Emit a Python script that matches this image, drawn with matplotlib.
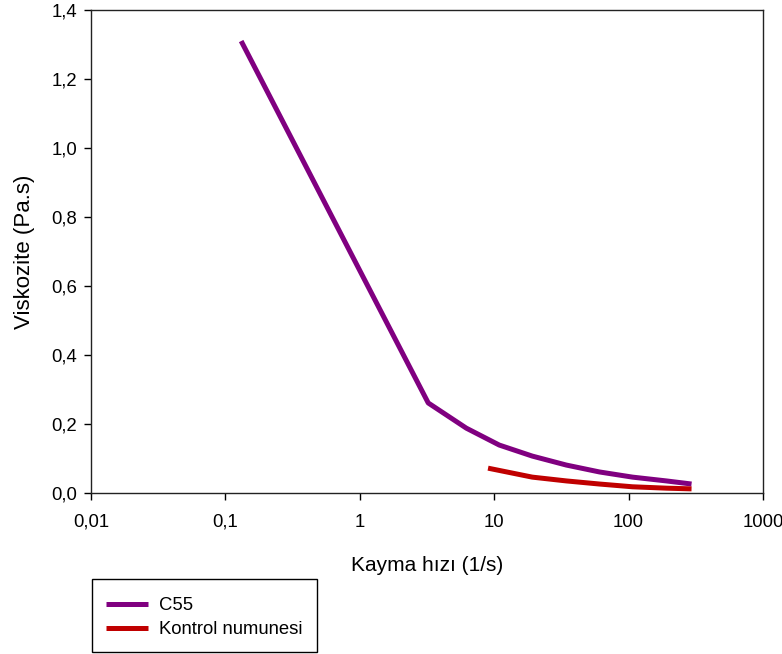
import matplotlib
matplotlib.use("Agg")
import matplotlib.pyplot as plt
from matplotlib.patches import Rectangle
from matplotlib.ticker import FixedLocator, FixedFormatter, NullLocator

plt.rcParams['font.family'] = ['Liberation Sans', 'DejaVu Sans']

# Data
c55_x = [0.131, 3.23, 6.2, 10.9, 19.2, 34.4, 60.7, 107, 191, 294]
c55_y = [1.31, 0.261, 0.188, 0.139, 0.107, 0.081, 0.061, 0.046, 0.035, 0.026]
kontrol_x = [9.0, 19.2, 34.4, 60.7, 107, 191, 294]
kontrol_y = [0.072, 0.046, 0.035, 0.026, 0.018, 0.014, 0.012]

x_ticks = [0.01, 0.1, 1, 10, 100, 1000]
x_tick_labels = ['0,01', '0,1', '1', '10', '100', '1000']
y_ticks = [0.0, 0.2, 0.4, 0.6, 0.8, 1.0, 1.2, 1.4]
y_tick_labels = ['0,0', '0,2', '0,4', '0,6', '0,8', '1,0', '1,2', '1,4']

W, H = 782, 654
fig = plt.figure(figsize=(W/100, H/100), dpi=100)
ax = fig.add_axes([91/W, 1 - 493/H, (763-91)/W, (493-10)/H])

ax.plot(c55_x, c55_y, color='#800080', lw=3.6, label='C55', solid_capstyle='butt')
ax.plot(kontrol_x, kontrol_y, color='#C00000', lw=3.6, label='Kontrol numunesi', solid_capstyle='butt')

ax.set_xscale('log')
ax.set_xlim(0.01, 1000)
ax.set_ylim(0, 1.4)
ax.xaxis.set_major_locator(FixedLocator(x_ticks))
ax.xaxis.set_major_formatter(FixedFormatter(x_tick_labels))
ax.xaxis.set_minor_locator(NullLocator())
ax.yaxis.set_major_locator(FixedLocator(y_ticks))
ax.yaxis.set_major_formatter(FixedFormatter(y_tick_labels))

ax.tick_params(axis='both', direction='out', length=5, width=1, labelsize=13.3, colors='black')
ax.tick_params(axis='x', pad=10)
ax.tick_params(axis='y', pad=5)
for s in ax.spines.values():
    s.set_linewidth(1.0)
    s.set_color('#222222')

ax.set_xlabel('Kayma hızı (1/s)', fontsize=15, labelpad=18)
ax.set_ylabel('Viskozite (Pa.s)', fontsize=16, labelpad=12)

# Legend box frame (below the plot)
fig.patches.append(Rectangle((92/W, 1 - 652/H), (317-92)/W, (652-579)/H,
                             transform=fig.transFigure, fill=False,
                             edgecolor='black', linewidth=1.0))
leg = ax.legend(loc='upper left', bbox_to_anchor=(106/W, 1 - 597/H), bbox_transform=fig.transFigure,
                fontsize=13.3, frameon=False,
                handlelength=2.27, handletextpad=0.6, borderpad=0, labelspacing=0.38,
                borderaxespad=0)

fig.savefig('out.png', dpi=100)
